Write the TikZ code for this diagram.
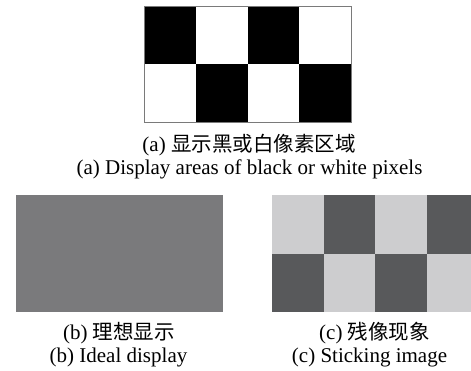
\documentclass[tikz,border=0pt]{standalone}
\usepackage{fontspec}
\setmainfont{Liberation Serif}
\newfontfamily\cjk{Noto Sans CJK SC}
\definecolor{midgray}{HTML}{7A7A7C}
\definecolor{lightcell}{HTML}{CDCDCF}
\definecolor{darkcell}{HTML}{58595B}
\definecolor{edgegray}{HTML}{7A7A7A}
\begin{document}
\begin{tikzpicture}[x=1pt,y=-1pt,
  captext/.style={anchor=base,inner sep=0pt,font=\fontsize{21}{24}\selectfont},
  cjktext/.style={anchor=base,inner sep=0pt,font=\fontsize{21}{24}\selectfont},
  blackcell/.style={fill=black},
  lcell/.style={fill=lightcell},
  dcell/.style={fill=darkcell}]
\useasboundingbox (0,0) rectangle (471,370);
\clip (0,0) rectangle (471,370);
% (a) checkerboard
\fill[white] (144,6) rectangle (351,122);
\fill[blackcell] (144,6) rectangle (195.75,64);
\fill[blackcell] (247.5,6) rectangle (299.25,64);
\fill[blackcell] (195.75,64) rectangle (247.5,122);
\fill[blackcell] (299.25,64) rectangle (351,122);
\draw[edgegray,line width=1pt] (144,6) rectangle (351,122);
\node[cjktext] (capaz) at (249,151) {(a) {\cjk\fontsize{20.5}{24}\selectfont 显示黑或白像素区域}};
\node[captext] (capae) at (249.5,174) {(a) Display areas of black or white pixels};
% (b) ideal display
\fill[midgray] (16,195) rectangle (223,312);
\node[cjktext] (capbz) at (119,339) {(b) {\cjk\fontsize{20.5}{24}\selectfont 理想显示}};
\node[captext] (capbe) at (118.5,362) {(b) Ideal display};
% (c) sticking image
\fill[lcell] (272,195) rectangle (323.5,253.5);
\fill[dcell] (323.5,195) rectangle (375,253.5);
\fill[lcell] (375,195) rectangle (426.5,253.5);
\fill[dcell] (426.5,195) rectangle (478,253.5);
\fill[dcell] (272,253.5) rectangle (323.5,312);
\fill[lcell] (323.5,253.5) rectangle (375,312);
\fill[dcell] (375,253.5) rectangle (426.5,312);
\fill[lcell] (426.5,253.5) rectangle (478,312);
\node[cjktext] (capcz) at (374.5,339) {(c) {\cjk\fontsize{20.5}{24}\selectfont 残像现象}};
\node[captext] (capce) at (369.5,362) {(c) Sticking image};
\end{tikzpicture}
\end{document}
